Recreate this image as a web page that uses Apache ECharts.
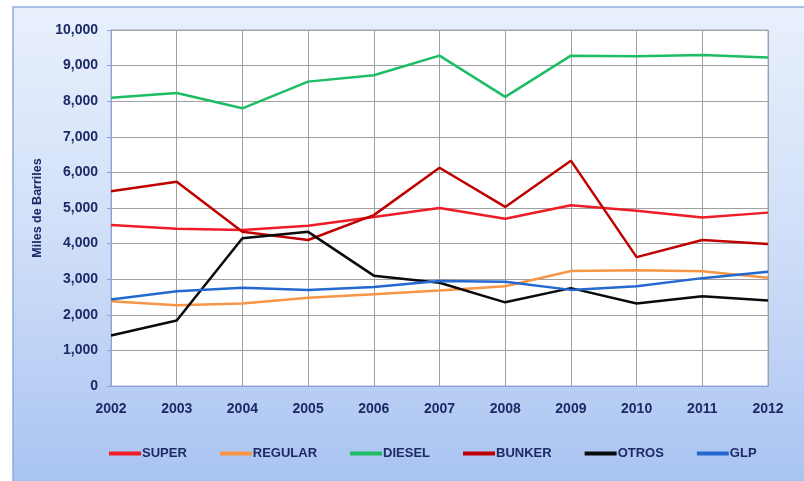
<!DOCTYPE html>
<html>
<head>
<meta charset="utf-8">
<script src="https://cdn.jsdelivr.net/npm/echarts@6/dist/echarts.min.js"></script>
<style>
  html, body { margin: 0; padding: 0; background: #ffffff; }
  #chart { width: 804px; height: 481px; }
</style>
</head>
<body>
<div id="chart"></div>
<script>
const years = ['2002', '2003', '2004', '2005', '2006', '2007', '2008', '2009', '2010', '2011', '2012'];

const superVals   = [4520, 4420, 4380, 4500, 4750, 5000, 4700, 5080, 4920, 4730, 4870];
const regularVals = [2380, 2270, 2320, 2480, 2580, 2680, 2800, 3230, 3250, 3220, 3040];
const dieselVals  = [8100, 8230, 7800, 8550, 8730, 9280, 8120, 9280, 9260, 9300, 9230];
const bunkerVals  = [5470, 5740, 4330, 4100, 4800, 6130, 5030, 6330, 3620, 4100, 3990];
const otrosVals   = [1420, 1840, 4150, 4330, 3100, 2900, 2350, 2750, 2320, 2520, 2400];
const glpVals     = [2430, 2660, 2760, 2700, 2780, 2950, 2930, 2700, 2800, 3030, 3210];

const chart = echarts.init(document.getElementById('chart'));

const textColor = '#1c2a66';
const font = '"Liberation Sans", Arial, sans-serif';

const mkLine = (name, data, color) => ({
    name: name,
    type: 'line',
    data: data,
    symbol: 'none',
    lineStyle: { color: color, width: 2.5 },
    itemStyle: { color: color },
});

const option = {
    backgroundColor: '#ffffff',
    animation: false,
    graphic: [
        {
            type: 'rect',
            z: -10,
            shape: { x: 13, y: 7, width: 800, height: 480 },
            style: {
                fill: new echarts.graphic.LinearGradient(0, 0, 0, 1, [
                    { offset: 0, color: '#e9f0fc' },
                    { offset: 0.5, color: '#cfdef8' },
                    { offset: 1, color: '#a8c3f1' },
                ]),
                stroke: '#8eaadb',
                lineWidth: 1.5,
            },
        },
    ],
    grid: {
        left: 111,
        right: 36,
        top: 30,
        bottom: 95,
        show: true,
        backgroundColor: '#ffffff',
        borderColor: '#9aaedc',
        borderWidth: 1,
    },
    legend: {
        bottom: 16,
        left: 104,
        itemWidth: 32,
        itemHeight: 4,
        itemGap: 33,
        icon: 'rect',
        textStyle: { color: textColor, fontFamily: font, fontSize: 13, fontWeight: 'bold', padding: [0, 0, 0, -4] },
        data: ['SUPER', 'REGULAR', 'DIESEL', 'BUNKER', 'OTROS', 'GLP'],
    },
    xAxis: {
        type: 'category',
        data: years,
        boundaryGap: false,
        axisLine: { lineStyle: { color: '#8ea2d6', width: 1 } },
        axisTick: { show: false },
        axisLabel: { color: textColor, fontFamily: font, fontSize: 14, fontWeight: 'bold', margin: 16 },
        splitLine: { show: true, lineStyle: { color: '#a0a0a0', width: 1 } },
    },
    yAxis: {
        type: 'value',
        min: 0,
        max: 10000,
        interval: 1000,
        name: 'Miles de Barriles',
        nameLocation: 'middle',
        nameGap: 64,
        nameTextStyle: { color: textColor, fontFamily: font, fontSize: 12.5, fontWeight: 'bold' },
        axisLine: { show: true, lineStyle: { color: '#8ea2d6', width: 1 } },
        axisTick: { show: true, length: 4, lineStyle: { color: '#8ea2d6' } },
        axisLabel: {
            color: textColor, fontFamily: font, fontSize: 14, fontWeight: 'bold', margin: 13,
            formatter: v => v.toLocaleString('en-US'),
        },
        splitLine: { show: true, lineStyle: { color: '#a0a0a0', width: 1 } },
    },
    series: [
        mkLine('SUPER', superVals, '#ee1c25'),
        mkLine('REGULAR', regularVals, '#f79646'),
        mkLine('DIESEL', dieselVals, '#1dbd64'),
        mkLine('BUNKER', bunkerVals, '#c00000'),
        mkLine('OTROS', otrosVals, '#0a0a0a'),
        mkLine('GLP', glpVals, '#2468d0'),
    ],
};

chart.setOption(option);
</script>
</body>
</html>
